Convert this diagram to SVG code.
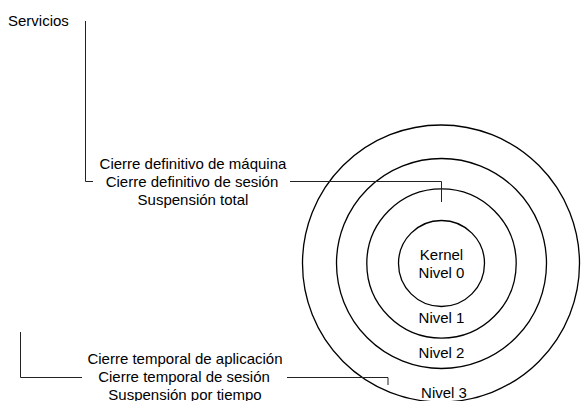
<svg xmlns="http://www.w3.org/2000/svg" width="581" height="401" viewBox="0 0 581 401">
<style>
text{font-family:"Liberation Sans",Arial,sans-serif;font-size:15px;fill:#000}
.c{text-anchor:middle}
.ring{fill:none;stroke:#000;stroke-width:1.3}
.conn{fill:none;stroke:#222;stroke-width:1}
</style>
<rect width="581" height="401" fill="#fff"/>
<g id="rings">
<circle id="ring3" class="ring" cx="441" cy="263.5" r="138.5"/>
<circle id="ring2" class="ring" cx="441.5" cy="263.5" r="105"/>
<circle id="ring1" class="ring" cx="441.5" cy="263.5" r="74.7"/>
<circle id="ring0" class="ring" cx="441.5" cy="263.5" r="43"/>
</g>
<g id="kernel"><text class="c" x="441.5" y="260">Kernel</text><text class="c" x="441.5" y="278.3">Nivel 0</text></g>
<g id="nivel1"><text class="c" x="441.5" y="323.3">Nivel 1</text></g>
<g id="nivel2"><text class="c" x="441.5" y="358.3">Nivel 2</text></g>
<g id="nivel3"><text class="c" x="444" y="398.3">Nivel 3</text></g>
<g id="servicios"><text x="8" y="25.5">Servicios</text></g>
<g id="definitivo">
<text class="c" x="193" y="169">Cierre definitivo de máquina</text>
<text class="c" x="192" y="187">Cierre definitivo de sesión</text>
<text class="c" x="193" y="205">Suspensión total</text>
</g>
<g id="temporal">
<text class="c" x="185" y="363.5">Cierre temporal de aplicación</text>
<text class="c" x="184" y="381.5">Cierre temporal de sesión</text>
<text class="c" x="185" y="399.5">Suspensión por tiempo</text>
</g>
<g id="connectors">
<polyline class="conn" points="85.5,21 85.5,181.5 93,181.5"/>
<polyline class="conn" points="290,181.5 441.5,181.5 441.5,202"/>
<polyline class="conn" points="20.5,332 20.5,377.5 82,377.5"/>
<polyline class="conn" points="287,377.5 388,377.5 388,385"/>
</g>
</svg>
